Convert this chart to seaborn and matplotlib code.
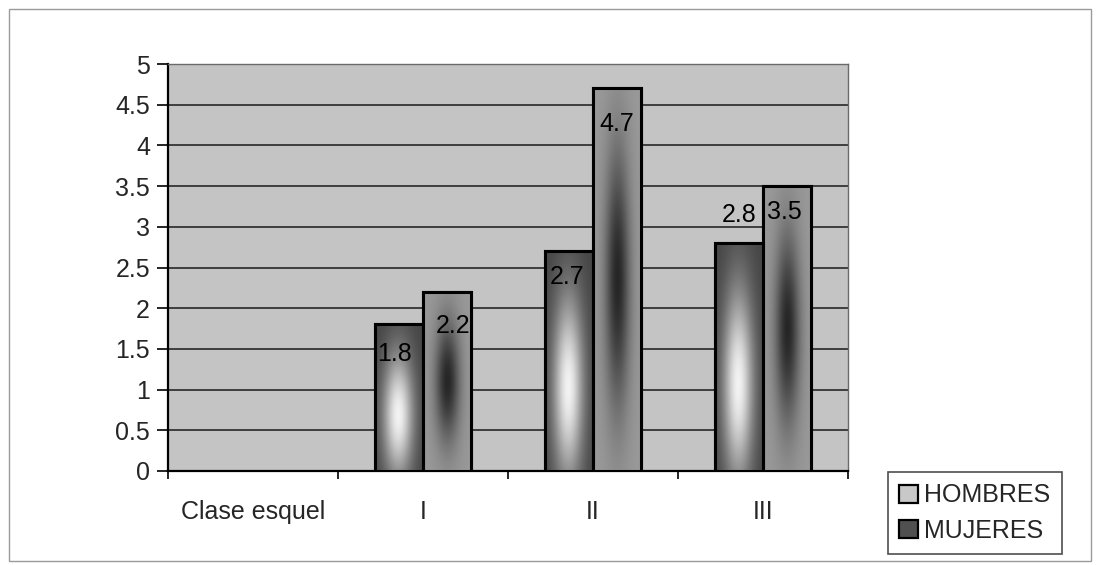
import numpy as np
import pandas as pd
import matplotlib
matplotlib.use("Agg")
import matplotlib.pyplot as plt
import seaborn as sns
from matplotlib.patches import Rectangle, Patch
from matplotlib.ticker import FuncFormatter, MultipleLocator, FixedLocator

# data
categories = ["Clase esquel", "I", "II", "III"]
series = ["HOMBRES", "MUJERES"]
hombres = [np.nan, 1.8, 2.7, 2.8]
mujeres = [np.nan, 2.2, 4.7, 3.5]
y_ticks = [0, 0.5, 1, 1.5, 2, 2.5, 3, 3.5, 4, 4.5, 5]

# pixel offsets of the value labels from the bar tops (Excel placed them oddly)
label_dy = {"HOMBRES": [0, -30, -26, 28], "MUJERES": [0, -34, -36, -26]}
label_dx = {"HOMBRES": [0, -4, -2, 0], "MUJERES": [0, 6, 0, -3]}

df = pd.DataFrame({
    "Clase": categories * 2,
    "Sexo": [series[0]] * 4 + [series[1]] * 4,
    "Valor": hombres + mujeres,
})

sns.set_theme(style="white")
plt.rcParams["font.family"] = ["Liberation Sans", "DejaVu Sans"]
FS = 18

fig = plt.figure(figsize=(11, 5.65), dpi=100)
ax = fig.add_axes([168 / 1100, 1 - 471 / 565, 680 / 1100, 407 / 565])
ax.set_facecolor("#c4c4c4")

sns.barplot(data=df, x="Clase", y="Valor", hue="Sexo", order=categories,
            hue_order=series, palette=["#b0b0b0", "#707070"], width=0.57,
            edgecolor="black", linewidth=2.2, legend=False, ax=ax, zorder=3)

ax.set_ylim(0, 5)
ax.set_xlim(-0.5, 3.5)

# gradient fills clipped to each bar
def shade(kind, n=200):
    xx, yy = np.meshgrid(np.linspace(-1, 1, n), np.linspace(0, 1, n))
    if kind == "HOMBRES":
        g = np.exp(-((xx + 0.05) / 0.62) ** 2 - ((yy - 0.38) / 0.42) ** 2)
        return 0.27 + 0.68 * g
    g = np.exp(-(xx / 0.5) ** 2 - ((yy - 0.5) / 0.33) ** 2)
    return 0.6 - 0.45 * g

for cont, name in zip(ax.containers, series):
    vals = hombres if name == "HOMBRES" else mujeres
    for bar in cont.patches:
        h = bar.get_height()
        if np.isnan(h) or h == 0:
            continue
        x0 = bar.get_x()
        w = bar.get_width()
        i = int(round(x0 + w / 2))
        im = ax.imshow(shade(name), cmap="gray", vmin=0, vmax=1, origin="lower",
                       extent=[x0, x0 + w, 0, h], aspect="auto", zorder=3.5,
                       interpolation="bilinear")
        im.set_clip_path(bar)
        ax.add_patch(Rectangle((x0, 0), w, h, fill=False, edgecolor="black",
                               linewidth=2.2, zorder=4))
        ax.annotate(f"{vals[i]:g}", (x0 + w / 2, h),
                    xytext=(label_dx[name][i], label_dy[name][i]),
                    textcoords="offset pixels", ha="center", va="center",
                    fontsize=FS, color="black", zorder=5)

ax.set_ylim(0, 5)
ax.set_xlim(-0.5, 3.5)

# grid and axes
ax.yaxis.set_major_locator(FixedLocator(y_ticks))
ax.yaxis.set_major_formatter(FuncFormatter(lambda v, p: f"{v:g}"))
for v in y_ticks[1:-1]:
    ax.axhline(v, color="#1a1a1a", linewidth=1.1, zorder=1)
ax.tick_params(axis="y", direction="out", length=8, width=1.2, color="black",
               labelsize=FS, pad=5, left=True)
ax.xaxis.set_minor_locator(MultipleLocator(1, offset=0.5))
ax.tick_params(axis="x", which="major", length=0, labelsize=FS, pad=21)
ax.tick_params(axis="x", which="minor", direction="out", length=6, width=1.2,
               color="black", bottom=True)
ax.set_xlabel("")
ax.set_ylabel("")

for side in ["left", "bottom"]:
    ax.spines[side].set_color("black")
    ax.spines[side].set_linewidth(1.6)
for side in ["top", "right"]:
    ax.spines[side].set_color("#6a6a6a")
    ax.spines[side].set_linewidth(1.0)

# legend
handles = [Patch(facecolor="#c8c8c8", edgecolor="black", linewidth=1.6),
           Patch(facecolor="#505050", edgecolor="black", linewidth=1.6)]
leg = fig.legend(handles, series, loc="lower left",
                 bbox_to_anchor=(888 / 1100, 1 - 554 / 565), fontsize=FS,
                 frameon=True, fancybox=False, handlelength=0.75,
                 handleheight=0.75, handletextpad=0.25, labelspacing=0.45,
                 borderpad=0.45, borderaxespad=0)
leg.get_frame().set_edgecolor("#222222")
leg.get_frame().set_linewidth(1.2)

# outer chart frame
fig.add_artist(Rectangle((9 / 1100, 1 - 561 / 565), 1082 / 1100, 552 / 565,
                         transform=fig.transFigure, fill=False,
                         edgecolor="#9a9a9a", linewidth=1.0))

fig.savefig("out.png", dpi=100)
